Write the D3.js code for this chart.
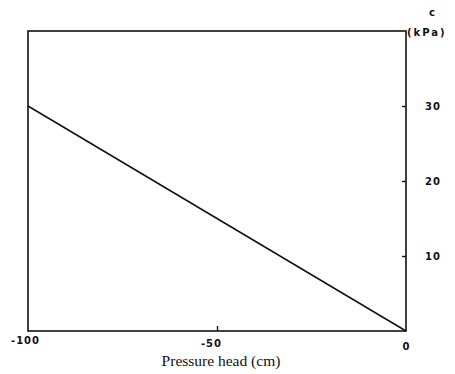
<!DOCTYPE html>
<html>
<head>
<meta charset="utf-8">
<script src="https://cdn.jsdelivr.net/npm/d3@7"></script>
<style>
  body { margin: 0; background: #fff; }
  .tick text { font-family: "DejaVu Sans", sans-serif; font-weight: bold; font-size: 10px; fill: #111; letter-spacing: 1px; }
</style>
</head>
<body>
<div id="chart"></div>
<script>
// pressure head (cm) and c (kPa)
const pressureHead = [-100, 0];
const cohesion = [30, 0];
const xTicks = [-100, -50, 0];
const yTicks = [10, 20, 30];

const width = 455, height = 374;
const mLeft = 28, mRight = 406, mTop = 31, mBottom = 331;

const svg = d3.select("#chart").append("svg")
    .attr("width", width)
    .attr("height", height);

const x = d3.scaleLinear().domain([-100, 0]).range([mLeft, mRight]);
const y = d3.scaleLinear().domain([0, 40]).range([mBottom, mTop]);

// frame
svg.append("rect")
    .attr("x", mLeft)
    .attr("y", mTop)
    .attr("width", mRight - mLeft)
    .attr("height", mBottom - mTop)
    .attr("fill", "none")
    .attr("stroke", "#111")
    .attr("stroke-width", 1.6);

// bottom axis: tick pointing inward
const xAxis = svg.append("g")
    .attr("transform", `translate(0,${mBottom})`)
    .call(d3.axisBottom(x).tickValues(xTicks).tickSize(0).tickPadding(4)
        .tickFormat((d) => String(d)));
xAxis.select(".domain").remove();
xAxis.selectAll(".tick")
    .append("line")
    .attr("y1", 0)
    .attr("y2", (d) => d === -50 ? -5 : 0)
    .attr("stroke", "#111")
    .attr("stroke-width", 1.4);
xAxis.selectAll(".tick text")
    .attr("dx", (d) => d === -50 ? -6 : d === -100 ? -3 : 0)
    .attr("dy", (d) => d === 0 ? "1.45em" : d === -50 ? "1.15em" : "0.85em");

// right axis: ticks pointing inward
const yAxis = svg.append("g")
    .attr("transform", `translate(${mRight},0)`)
    .call(d3.axisRight(y).tickValues(yTicks).tickSize(0).tickPadding(19));
yAxis.select(".domain").remove();
yAxis.selectAll(".tick")
    .append("line")
    .attr("x1", 0)
    .attr("x2", -4)
    .attr("stroke", "#111")
    .attr("stroke-width", 1.4);

// data line
const line = d3.line()
    .x((d, i) => x(pressureHead[i]))
    .y((d) => y(d));

svg.append("path")
    .datum(cohesion)
    .attr("d", line)
    .attr("fill", "none")
    .attr("stroke", "#111")
    .attr("stroke-width", 1.5);

// labels
svg.append("text")
    .attr("x", 221)
    .attr("y", 366)
    .attr("text-anchor", "middle")
    .attr("font-family", "Liberation Serif, serif")
    .attr("font-size", 15.5)
    .attr("fill", "#111")
    .text("Pressure head (cm)");

svg.append("text")
    .attr("x", 432)
    .attr("y", 16)
    .attr("text-anchor", "middle")
    .attr("font-family", "DejaVu Sans, sans-serif")
    .attr("font-weight", "bold")
    .attr("font-size", 10)
    .attr("fill", "#111")
    .text("c");

svg.append("text")
    .attr("x", 407)
    .attr("y", 36)
    .attr("font-family", "DejaVu Sans, sans-serif")
    .attr("font-weight", "bold")
    .attr("font-size", 10)
    .attr("letter-spacing", 2)
    .attr("fill", "#111")
    .text("(kPa)");
</script>
</body>
</html>
